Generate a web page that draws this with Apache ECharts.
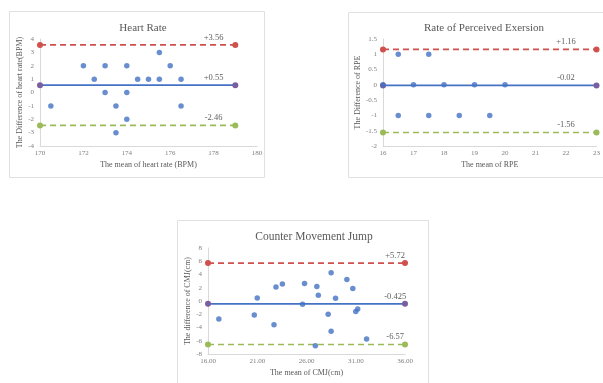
<!DOCTYPE html>
<html><head><meta charset="utf-8">
<script src="https://cdn.jsdelivr.net/npm/echarts@6/dist/echarts.min.js"></script>
<style>html,body{margin:0;padding:0;background:#fff}#c{width:603px;height:383px}</style>
</head><body><div id="c"></div>
<script>
// Heart Rate
const hrPoints = [[170.5,-1],[172,2],[172.5,1],[173,2],[173,0],[173.5,-1],[173.5,-3],[174,2],[174,0],[174,-2],[174.5,1],[175,1],[175.5,1],[175.5,3],[176,2],[176.5,1],[176.5,-1]];
const hrLimits = {upper:3.56, mean:0.55, lower:-2.46};
const hrLabels = ['+3.56','+0.55','-2.46'];
const hrRange = [170,179];
// RPE
const rpePoints = [[16,0],[16.5,1],[17.5,1],[17,0],[18,0],[19,0],[20,0],[16.5,-1],[17.5,-1],[18.5,-1],[19.5,-1]];
const rpeLimits = {upper:1.16, mean:-0.02, lower:-1.56};
const rpeLabels = ['+1.16','-0.02','-1.56'];
const rpeRange = [16,23];
// CMJ
const cmjPoints = [[17.1,-2.7],[20.7,-2.1],[21.0,0.45],[22.7,-3.6],[22.9,2.1],[23.55,2.55],[25.6,-0.5],[25.8,2.65],[26.9,-6.75],[27.05,2.2],[27.2,0.85],[28.2,-2.0],[28.5,4.25],[28.5,-4.55],[28.95,0.4],[30.1,3.25],[30.7,1.9],[31.0,-1.6],[31.2,-1.2],[32.1,-5.75]];
const cmjLimits = {upper:5.72, mean:-0.425, lower:-6.57};
const cmjLabels = ['+5.72','-0.425','-6.57'];
const cmjRange = [16,36];

const FONT = 'Liberation Serif';
const RED='#D0504D', BLUE='#4472C4', GREEN='#9BBB59', PURPLE='#7A5FA0', PT='#4472C4';

function limitSeries(idx, range, lim, labels, labelX){
  const mk = (v, color, endColor, type, lbl) => ([
    {type:'line', xAxisIndex:idx, yAxisIndex:idx, data:[[range[0],v],[range[1],v]],
     symbol:'circle', symbolSize:6, itemStyle:{color:endColor},
     lineStyle:{color:color, width: type==='solid'?1.8:1.6, type: type==='solid'?'solid':[6,4]},
     silent:true, animation:false, z:2},
    {type:'scatter', xAxisIndex:idx, yAxisIndex:idx, data:[[labelX,v]], symbolSize:0,
     label:{show:true, position:'top', distance:3, formatter:lbl, fontFamily:FONT, fontSize:8.5, color:'#333'},
     silent:true, animation:false}
  ]);
  return [].concat(
    mk(lim.upper, RED, RED, 'dash', labels[0]),
    mk(lim.mean, BLUE, PURPLE, 'solid', labels[1]),
    mk(lim.lower, GREEN, GREEN, 'dash', labels[2])
  );
}
function pts(idx, data){
  return {type:'scatter', xAxisIndex:idx, yAxisIndex:idx, data:data, symbolSize:5.5, itemStyle:{color:PT}, z:5, animation:false};
}
function xAx(idx, min, max, interval, name, gap, fmt){
  return {gridIndex:idx, type:'value', min:min, max:max, interval:interval, name:name, nameLocation:'middle', nameGap:gap,
    nameTextStyle:{fontFamily:FONT, fontSize:8, color:'#595959'},
    axisLine:{show:true, onZero:false, lineStyle:{color:'#D9D9D9'}}, axisTick:{show:false}, splitLine:{show:false},
    axisLabel:{fontFamily:FONT, fontSize:7, color:'#7F7F7F', margin:4, formatter:fmt}};
}
function yAx(idx, min, max, interval, name, gap){
  return {gridIndex:idx, type:'value', min:min, max:max, interval:interval, name:name, nameLocation:'middle', nameGap:gap,
    nameTextStyle:{fontFamily:FONT, fontSize:8, color:'#595959'},
    axisLine:{show:true, onZero:false, lineStyle:{color:'#D9D9D9'}}, axisTick:{show:false}, splitLine:{show:false},
    axisLabel:{fontFamily:FONT, fontSize:7, color:'#7F7F7F', margin:6}};
}

const chart = echarts.init(document.getElementById('c'), null, {renderer:'canvas'});
chart.setOption({
  backgroundColor:'#fff',
  animation:false,
  graphic:[
    {type:'rect', shape:{x:9.5,y:11.5,width:255,height:166}, style:{fill:'none', stroke:'#E0E0E0', lineWidth:1}},
    {type:'rect', shape:{x:348.5,y:12.5,width:260,height:165}, style:{fill:'none', stroke:'#E0E0E0', lineWidth:1}},
    {type:'rect', shape:{x:177.5,y:220.5,width:251,height:170}, style:{fill:'none', stroke:'#E0E0E0', lineWidth:1}}
  ],
  title:[
    {text:'Heart Rate', left:138, top:18, textAlign:'center', textStyle:{fontFamily:FONT, fontSize:11, fontWeight:'normal', color:'#595959'}},
    {text:'Rate of Perceived Exersion', left:479, top:18, textAlign:'center', textStyle:{fontFamily:FONT, fontSize:11, fontWeight:'normal', color:'#595959'}},
    {text:'Counter Movement Jump', left:309, top:226, textAlign:'center', textStyle:{fontFamily:FONT, fontSize:11.5, fontWeight:'normal', color:'#595959'}}
  ],
  grid:[
    {left:40, top:39, width:217, height:107},
    {left:383, top:39, width:216, height:107},
    {left:208, top:248, width:197, height:106}
  ],
  xAxis:[
    xAx(0,170,180,2,'The mean of heart rate (BPM)',15),
    xAx(1,16,23,1,'The mean of RPE',15),
    xAx(2,16,36,5,'The mean of CMJ(cm)',15, v=>v.toFixed(2))
  ],
  yAxis:[
    yAx(0,-4,4,1,'The Difference of heart rate(BPM)',12),
    yAx(1,-2,1.5,0.5,'The Difference of RPE',16),
    yAx(2,-8,8,2,'The difference of CMJ(cm)',12)
  ],
  series:[].concat(
    limitSeries(0, hrRange, hrLimits, hrLabels, 178),
    [pts(0, hrPoints)],
    limitSeries(1, rpeRange, rpeLimits, rpeLabels, 22),
    [pts(1, rpePoints)],
    limitSeries(2, cmjRange, cmjLimits, cmjLabels, 35),
    [pts(2, cmjPoints)]
  )
});
</script></body></html>
